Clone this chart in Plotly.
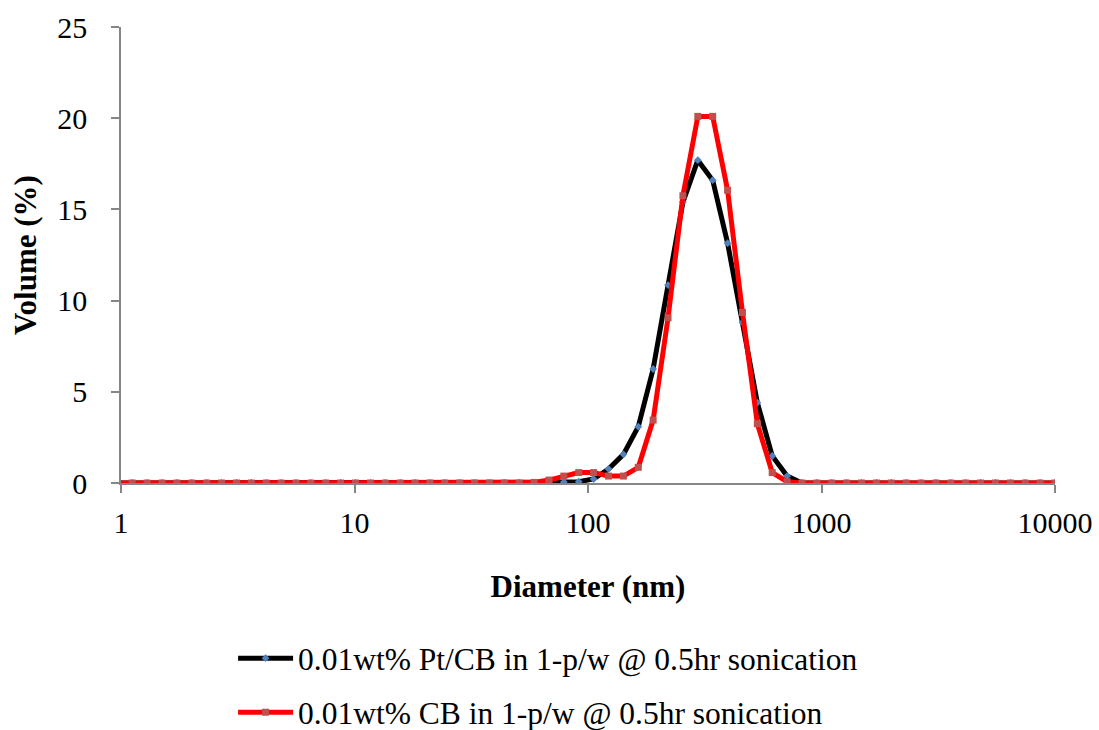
import plotly.graph_objects as go

# Zetasizer size bins (nm)
diameter = [0.9649, 1.117, 1.294, 1.499, 1.736, 2.01, 2.328, 2.696, 3.122, 3.615, 4.187,
            4.849, 5.615, 6.503, 7.531, 8.721, 10.1, 11.7, 13.54, 15.69, 18.17,
            21.04, 24.36, 28.21, 32.67, 37.84, 43.82, 50.75, 58.77, 68.06, 78.82,
            91.28, 105.7, 122.4, 141.8, 164.2, 190.1, 220.2, 255.0, 295.3, 342.0,
            396.1, 458.7, 531.2, 615.1, 712.4, 825.0, 955.4, 1106, 1281, 1484,
            1718, 1990, 2305, 2669, 3091, 3580, 4145, 4801, 5560, 6439, 7456,
            8635, 10000]

vol_ptcb = [0, 0, 0, 0, 0, 0, 0, 0, 0, 0, 0,
            0, 0, 0, 0, 0, 0, 0, 0, 0, 0,
            0, 0, 0, 0, 0, 0, 0, 0, 0.0, 0.05,
            0.07, 0.22, 0.77, 1.57, 3.09, 6.25, 10.85, 15.4, 17.7, 16.6,
            13.15, 8.8, 4.4, 1.48, 0.38, 0, 0, 0, 0, 0,
            0, 0, 0, 0, 0, 0, 0, 0, 0, 0, 0,
            0, 0]

vol_cb = [0, 0, 0, 0, 0, 0, 0, 0, 0, 0, 0,
          0, 0, 0, 0, 0, 0, 0, 0, 0, 0,
          0, 0, 0, 0, 0, 0, 0, 0.03, 0.16, 0.38,
          0.57, 0.57, 0.38, 0.38, 0.86, 3.45, 9.06, 15.75, 20.1, 20.1,
          16.05, 9.35, 3.25, 0.57, 0.07, 0, 0, 0, 0, 0,
          0, 0, 0, 0, 0, 0, 0, 0, 0, 0, 0,
          0, 0]

x_ticks = [1, 10, 100, 1000, 10000]
x_ticktext = ["1", "10", "100", "1000", "10000"]
y_ticks = [0, 5, 10, 15, 20, 25]

series_names = ["0.01wt% Pt/CB in 1-p/w @ 0.5hr sonication",
                "0.01wt% CB in 1-p/w @ 0.5hr sonication"]

FONT = "Liberation Serif"
AXIS_COLOR = "#868686"

fig = go.Figure()
fig.add_trace(go.Scatter(
    x=diameter, y=vol_ptcb, mode="lines+markers", name=series_names[0],
    legendgroup="a",
    line=dict(color="black", width=5),
    marker=dict(symbol="diamond", size=6, color="#4F81BD", line=dict(width=0)),
))
fig.add_trace(go.Scatter(
    x=diameter, y=vol_cb, mode="lines+markers", name=series_names[1],
    legendgroup="b",
    line=dict(color="#FF0000", width=5),
    marker=dict(symbol="square", size=7, color="#C0504D", line=dict(width=0)),
))

fig.update_layout(
    width=1099, height=730,
    margin=dict(l=121, r=44, t=27, b=247, autoexpand=False),
    plot_bgcolor="white", paper_bgcolor="white",
    font=dict(family=FONT, size=30, color="black"),
    showlegend=True,
    legend=dict(
        orientation="v", x=0.12, xanchor="left", y=-0.325, yanchor="top",
        font=dict(family=FONT, size=31.5, color="black"),
        tracegroupgap=10, traceorder="grouped",
        bgcolor="rgba(0,0,0,0)", itemwidth=55,
    ),
    xaxis=dict(
        type="log", range=[0, 4],
        tickvals=x_ticks, ticktext=x_ticktext,
        showgrid=False, zeroline=False,
        showline=True, linecolor=AXIS_COLOR, linewidth=1.5,
        ticks="outside", ticklen=8, tickcolor=AXIS_COLOR, tickwidth=1.5,
        tickfont=dict(family=FONT, size=30),
        ticklabelstandoff=4,
        title=dict(text="<b>Diameter (nm)</b>", font=dict(family=FONT, size=31), standoff=38),
    ),
    yaxis=dict(
        range=[0, 25], tickvals=y_ticks,
        showgrid=False, zeroline=False,
        showline=True, linecolor=AXIS_COLOR, linewidth=1.5,
        ticks="outside", ticklen=8, tickcolor=AXIS_COLOR, tickwidth=1.5,
        tickfont=dict(family=FONT, size=30),
        ticklabelstandoff=18,
        title=dict(text="<b>Volume (%)</b>", font=dict(family=FONT, size=31), standoff=11),
    ),
)

fig.write_html("out.html")
